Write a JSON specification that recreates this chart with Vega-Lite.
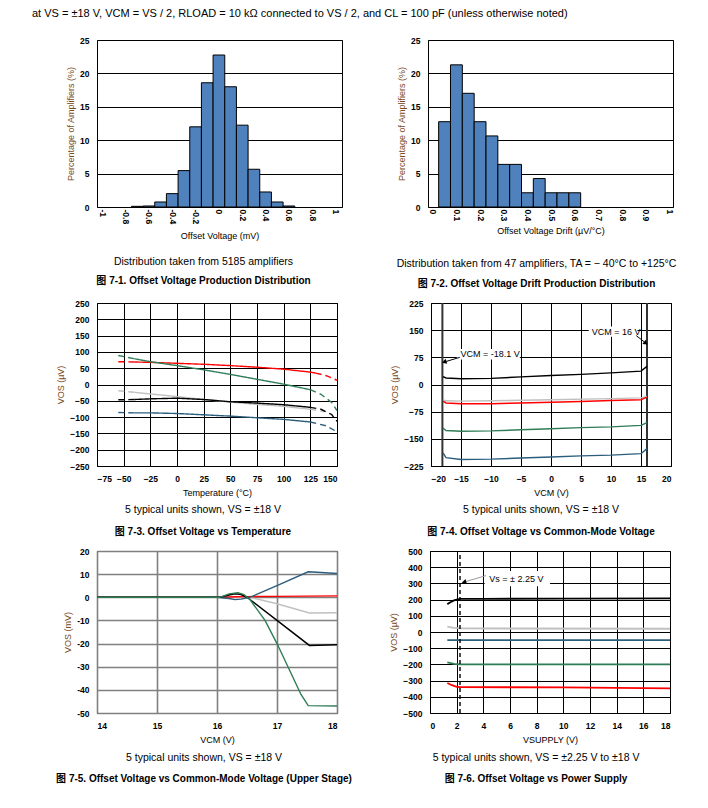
{
  "$schema": "https://vega.github.io/schema/vega-lite/v6.json",
  "background": "white",
  "padding": {"left": 32, "top": 7, "right": 5, "bottom": 5},
  "title": {"text": "at VS = ±18 V, VCM = VS / 2, RLOAD = 10 kΩ  connected to VS / 2, and CL = 100 pF (unless otherwise noted)", "orient": "top", "anchor": "start", "frame": "group", "dx": -65, "offset": 17, "fontSize": 11, "fontWeight": "normal", "color": "#000"},
  "config": {
    "font": "Liberation Sans, Noto Sans CJK SC",
    "view": {"stroke": "#000", "strokeWidth": 1},
    "axis": {"labelFontSize": 8.5, "labelFontWeight": "bold", "labelColor": "#000", "titleFontSize": 9, "titleFontWeight": "normal", "titleColor": "#000", "grid": true, "gridColor": "#000", "gridOpacity": 1, "gridWidth": 1, "domain": false, "ticks": false},
    "axisY": {"titleColor": "#7a4a1c", "labelPadding": 8, "titlePadding": 4},
    "axisX": {"labelPadding": 8, "titlePadding": 6},
    "title": {"fontSize": 10.5, "fontWeight": "normal", "color": "#000", "subtitleFontSize": 10, "subtitleFontWeight": "bold", "subtitleColor": "#000", "subtitlePadding": 9, "orient": "bottom", "anchor": "middle", "frame": "group"},
    "line": {"strokeWidth": 1.4}
  },
  "datasets": {
    "p1": [
      {"lo": -0.75, "hi": -0.65, "pct": 0.1},
      {"lo": -0.65, "hi": -0.55, "pct": 0.15},
      {"lo": -0.55, "hi": -0.45, "pct": 0.75},
      {"lo": -0.45, "hi": -0.35, "pct": 2.0},
      {"lo": -0.35, "hi": -0.25, "pct": 5.45},
      {"lo": -0.25, "hi": -0.15, "pct": 12.0},
      {"lo": -0.15, "hi": -0.05, "pct": 18.6},
      {"lo": -0.05, "hi": 0.05, "pct": 22.75},
      {"lo": 0.05, "hi": 0.15, "pct": 18.0},
      {"lo": 0.15, "hi": 0.25, "pct": 12.25},
      {"lo": 0.25, "hi": 0.35, "pct": 5.65},
      {"lo": 0.35, "hi": 0.45, "pct": 2.25},
      {"lo": 0.45, "hi": 0.55, "pct": 0.75},
      {"lo": 0.55, "hi": 0.65, "pct": 0.15}
    ],
    "p2": [
      {"lo": 0.025, "hi": 0.075, "pct": 12.77},
      {"lo": 0.075, "hi": 0.125, "pct": 21.28},
      {"lo": 0.125, "hi": 0.175, "pct": 17.02},
      {"lo": 0.175, "hi": 0.225, "pct": 12.77},
      {"lo": 0.225, "hi": 0.275, "pct": 10.64},
      {"lo": 0.275, "hi": 0.325, "pct": 6.38},
      {"lo": 0.325, "hi": 0.375, "pct": 6.38},
      {"lo": 0.375, "hi": 0.425, "pct": 2.13},
      {"lo": 0.425, "hi": 0.475, "pct": 4.26},
      {"lo": 0.475, "hi": 0.525, "pct": 2.13},
      {"lo": 0.525, "hi": 0.575, "pct": 2.13},
      {"lo": 0.575, "hi": 0.625, "pct": 2.13}
    ],
    "p3": [
      {"unit": "U3", "seg": "dashL", "t": -55, "vos": -19}, {"unit": "U3", "seg": "dashL", "t": -40, "vos": -24},
      {"unit": "U3", "seg": "solid", "t": -40, "vos": -24}, {"unit": "U3", "seg": "solid", "t": -25, "vos": -29}, {"unit": "U3", "seg": "solid", "t": 0, "vos": -37}, {"unit": "U3", "seg": "solid", "t": 25, "vos": -46}, {"unit": "U3", "seg": "solid", "t": 50, "vos": -54}, {"unit": "U3", "seg": "solid", "t": 75, "vos": -61}, {"unit": "U3", "seg": "solid", "t": 100, "vos": -67}, {"unit": "U3", "seg": "solid", "t": 125, "vos": -76},
      {"unit": "U3", "seg": "dashR", "t": 125, "vos": -76}, {"unit": "U3", "seg": "dashR", "t": 138, "vos": -83},
      {"unit": "U1", "seg": "dashL", "t": -55, "vos": 70}, {"unit": "U1", "seg": "dashL", "t": -40, "vos": 69},
      {"unit": "U1", "seg": "solid", "t": -40, "vos": 69}, {"unit": "U1", "seg": "solid", "t": -25, "vos": 68}, {"unit": "U1", "seg": "solid", "t": 0, "vos": 65}, {"unit": "U1", "seg": "solid", "t": 25, "vos": 62}, {"unit": "U1", "seg": "solid", "t": 50, "vos": 58}, {"unit": "U1", "seg": "solid", "t": 75, "vos": 53}, {"unit": "U1", "seg": "solid", "t": 100, "vos": 47}, {"unit": "U1", "seg": "solid", "t": 125, "vos": 38}, {"unit": "U1", "seg": "solid", "t": 130, "vos": 35},
      {"unit": "U1", "seg": "dashR", "t": 130, "vos": 35}, {"unit": "U1", "seg": "dashR", "t": 140, "vos": 27}, {"unit": "U1", "seg": "dashR", "t": 150, "vos": 13},
      {"unit": "U2", "seg": "dashL", "t": -55, "vos": 89}, {"unit": "U2", "seg": "dashL", "t": -40, "vos": 79},
      {"unit": "U2", "seg": "solid", "t": -40, "vos": 79}, {"unit": "U2", "seg": "solid", "t": -25, "vos": 70}, {"unit": "U2", "seg": "solid", "t": 0, "vos": 58}, {"unit": "U2", "seg": "solid", "t": 25, "vos": 45}, {"unit": "U2", "seg": "solid", "t": 50, "vos": 31}, {"unit": "U2", "seg": "solid", "t": 75, "vos": 16}, {"unit": "U2", "seg": "solid", "t": 100, "vos": 1}, {"unit": "U2", "seg": "solid", "t": 125, "vos": -16},
      {"unit": "U2", "seg": "dashR", "t": 125, "vos": -16}, {"unit": "U2", "seg": "dashR", "t": 135, "vos": -30}, {"unit": "U2", "seg": "dashR", "t": 145, "vos": -55}, {"unit": "U2", "seg": "dashR", "t": 150, "vos": -80},
      {"unit": "U4", "seg": "dashL", "t": -55, "vos": -47}, {"unit": "U4", "seg": "dashL", "t": -40, "vos": -46},
      {"unit": "U4", "seg": "solid", "t": -40, "vos": -46}, {"unit": "U4", "seg": "solid", "t": -25, "vos": -44}, {"unit": "U4", "seg": "solid", "t": 0, "vos": -42}, {"unit": "U4", "seg": "solid", "t": 25, "vos": -46}, {"unit": "U4", "seg": "solid", "t": 50, "vos": -53}, {"unit": "U4", "seg": "solid", "t": 75, "vos": -57}, {"unit": "U4", "seg": "solid", "t": 100, "vos": -62}, {"unit": "U4", "seg": "solid", "t": 125, "vos": -70},
      {"unit": "U4", "seg": "dashR", "t": 125, "vos": -70}, {"unit": "U4", "seg": "dashR", "t": 135, "vos": -76}, {"unit": "U4", "seg": "dashR", "t": 145, "vos": -92}, {"unit": "U4", "seg": "dashR", "t": 150, "vos": -113},
      {"unit": "U5", "seg": "dashL", "t": -55, "vos": -86}, {"unit": "U5", "seg": "dashL", "t": -40, "vos": -87},
      {"unit": "U5", "seg": "solid", "t": -40, "vos": -87}, {"unit": "U5", "seg": "solid", "t": -25, "vos": -87}, {"unit": "U5", "seg": "solid", "t": 0, "vos": -89}, {"unit": "U5", "seg": "solid", "t": 25, "vos": -93}, {"unit": "U5", "seg": "solid", "t": 50, "vos": -97}, {"unit": "U5", "seg": "solid", "t": 75, "vos": -102}, {"unit": "U5", "seg": "solid", "t": 100, "vos": -107}, {"unit": "U5", "seg": "solid", "t": 125, "vos": -115},
      {"unit": "U5", "seg": "dashR", "t": 125, "vos": -115}, {"unit": "U5", "seg": "dashR", "t": 140, "vos": -127}, {"unit": "U5", "seg": "dashR", "t": 150, "vos": -145}
    ],
    "p4": [
      {"unit": "U4", "vcm": -18, "vos": 22}, {"unit": "U4", "vcm": -17.5, "vos": 18}, {"unit": "U4", "vcm": -15, "vos": 16}, {"unit": "U4", "vcm": -10, "vos": 17}, {"unit": "U4", "vcm": -5, "vos": 21}, {"unit": "U4", "vcm": 0, "vos": 25}, {"unit": "U4", "vcm": 5, "vos": 28}, {"unit": "U4", "vcm": 10, "vos": 32}, {"unit": "U4", "vcm": 15, "vos": 37}, {"unit": "U4", "vcm": 16, "vos": 50},
      {"unit": "U3", "vcm": -18, "vos": -42}, {"unit": "U3", "vcm": -17.5, "vos": -45}, {"unit": "U3", "vcm": -15, "vos": -46}, {"unit": "U3", "vcm": -10, "vos": -45}, {"unit": "U3", "vcm": 0, "vos": -42}, {"unit": "U3", "vcm": 10, "vos": -39}, {"unit": "U3", "vcm": 15, "vos": -37}, {"unit": "U3", "vcm": 16, "vos": -33},
      {"unit": "U1", "vcm": -18, "vos": -46}, {"unit": "U1", "vcm": -17.5, "vos": -51}, {"unit": "U1", "vcm": -15, "vos": -53}, {"unit": "U1", "vcm": -10, "vos": -53}, {"unit": "U1", "vcm": -5, "vos": -51}, {"unit": "U1", "vcm": 0, "vos": -49}, {"unit": "U1", "vcm": 5, "vos": -47}, {"unit": "U1", "vcm": 10, "vos": -44}, {"unit": "U1", "vcm": 15, "vos": -42}, {"unit": "U1", "vcm": 16, "vos": -35},
      {"unit": "U2", "vcm": -18, "vos": -120}, {"unit": "U2", "vcm": -17.5, "vos": -127}, {"unit": "U2", "vcm": -15, "vos": -129}, {"unit": "U2", "vcm": -10, "vos": -128}, {"unit": "U2", "vcm": -5, "vos": -125}, {"unit": "U2", "vcm": 0, "vos": -122}, {"unit": "U2", "vcm": 5, "vos": -119}, {"unit": "U2", "vcm": 10, "vos": -117}, {"unit": "U2", "vcm": 15, "vos": -113}, {"unit": "U2", "vcm": 16, "vos": -105},
      {"unit": "U5", "vcm": -18, "vos": -189}, {"unit": "U5", "vcm": -17.5, "vos": -202}, {"unit": "U5", "vcm": -15, "vos": -207}, {"unit": "U5", "vcm": -10, "vos": -206}, {"unit": "U5", "vcm": -5, "vos": -203}, {"unit": "U5", "vcm": 0, "vos": -200}, {"unit": "U5", "vcm": 5, "vos": -197}, {"unit": "U5", "vcm": 10, "vos": -195}, {"unit": "U5", "vcm": 15, "vos": -191}, {"unit": "U5", "vcm": 16, "vos": -177}
    ],
    "p4v": [{"vcm": -18.1, "vos": -225, "vos2": 225}, {"vcm": 16, "vos": -225, "vos2": 225}],
    "p4box": [{"vcm": -15.7, "vcm2": -5.2, "vos": 98, "vos2": 69}, {"vcm": 6.3, "vcm2": 14.4, "vos": 160, "vos2": 132}],
    "p4txt": [{"vcm": -15.1, "vos": 84, "label": "VCM = -18.1 V"}, {"vcm": 6.8, "vos": 146, "label": "VCM = 16 V"}],
    "p4arr": [{"vcm": -15.2, "vos": 75, "vcm2": -17.6, "vos2": 63}, {"vcm": 14.2, "vos": 135, "vcm2": 15.6, "vos2": 117}],
    "p4head1": [{"vcm": -17.8, "vos": 62}],
    "p4head2": [{"vcm": 15.8, "vos": 114}],
    "p5": [
      {"unit": "U3", "vcm": 14, "vos": 0}, {"unit": "U3", "vcm": 16.4, "vos": 0}, {"unit": "U3", "vcm": 16.55, "vos": 0}, {"unit": "U3", "vcm": 17, "vos": -2.8}, {"unit": "U3", "vcm": 17.54, "vos": -6.8}, {"unit": "U3", "vcm": 18, "vos": -6.7},
      {"unit": "U1", "vcm": 14, "vos": 0}, {"unit": "U1", "vcm": 16.1, "vos": 0}, {"unit": "U1", "vcm": 16.3, "vos": 0.2}, {"unit": "U1", "vcm": 16.5, "vos": 0.3}, {"unit": "U1", "vcm": 17, "vos": 0.4}, {"unit": "U1", "vcm": 17.5, "vos": 0.5}, {"unit": "U1", "vcm": 18, "vos": 0.6},
      {"unit": "U5", "vcm": 14, "vos": 0}, {"unit": "U5", "vcm": 16, "vos": 0}, {"unit": "U5", "vcm": 16.2, "vos": -0.5}, {"unit": "U5", "vcm": 16.3, "vos": -1.0}, {"unit": "U5", "vcm": 16.4, "vos": -0.8}, {"unit": "U5", "vcm": 16.55, "vos": 0}, {"unit": "U5", "vcm": 17, "vos": 5}, {"unit": "U5", "vcm": 17.52, "vos": 11}, {"unit": "U5", "vcm": 17.6, "vos": 10.9}, {"unit": "U5", "vcm": 18, "vos": 10.3},
      {"unit": "U4", "vcm": 14, "vos": 0}, {"unit": "U4", "vcm": 16.05, "vos": 0}, {"unit": "U4", "vcm": 16.2, "vos": 1.0}, {"unit": "U4", "vcm": 16.3, "vos": 1.5}, {"unit": "U4", "vcm": 16.4, "vos": 1.2}, {"unit": "U4", "vcm": 16.5, "vos": 0}, {"unit": "U4", "vcm": 17, "vos": -10}, {"unit": "U4", "vcm": 17.54, "vos": -20.8}, {"unit": "U4", "vcm": 18, "vos": -20.5},
      {"unit": "U2", "vcm": 14, "vos": 0}, {"unit": "U2", "vcm": 16.05, "vos": 0}, {"unit": "U2", "vcm": 16.2, "vos": 1.5}, {"unit": "U2", "vcm": 16.35, "vos": 2.0}, {"unit": "U2", "vcm": 16.45, "vos": 1.2}, {"unit": "U2", "vcm": 16.55, "vos": -1}, {"unit": "U2", "vcm": 16.8, "vos": -10}, {"unit": "U2", "vcm": 17, "vos": -20}, {"unit": "U2", "vcm": 17.2, "vos": -31}, {"unit": "U2", "vcm": 17.4, "vos": -42}, {"unit": "U2", "vcm": 17.52, "vos": -46.8}, {"unit": "U2", "vcm": 18, "vos": -47}
    ],
    "p6": [
      {"unit": "U4", "vs": 1.3, "vos": 172}, {"unit": "U4", "vs": 1.5, "vos": 182}, {"unit": "U4", "vs": 1.8, "vos": 195}, {"unit": "U4", "vs": 2.0, "vos": 200}, {"unit": "U4", "vs": 2.25, "vos": 205}, {"unit": "U4", "vs": 4, "vos": 205}, {"unit": "U4", "vs": 10, "vos": 206}, {"unit": "U4", "vs": 18, "vos": 207},
      {"unit": "U3", "vs": 1.3, "vos": 33}, {"unit": "U3", "vs": 1.8, "vos": 25}, {"unit": "U3", "vs": 2.25, "vos": 22}, {"unit": "U3", "vs": 18, "vos": 20},
      {"unit": "U5", "vs": 1.3, "vos": -50}, {"unit": "U5", "vs": 2.25, "vos": -50}, {"unit": "U5", "vs": 18, "vos": -50},
      {"unit": "U2", "vs": 1.3, "vos": -188}, {"unit": "U2", "vs": 1.8, "vos": -197}, {"unit": "U2", "vs": 2.25, "vos": -200}, {"unit": "U2", "vs": 18, "vos": -200},
      {"unit": "U1", "vs": 1.3, "vos": -315}, {"unit": "U1", "vs": 1.6, "vos": -327}, {"unit": "U1", "vs": 2.0, "vos": -338}, {"unit": "U1", "vs": 2.25, "vos": -340}, {"unit": "U1", "vs": 10, "vos": -342}, {"unit": "U1", "vs": 18, "vos": -348}
    ],
    "p6v": [{"vs": 2.25, "vos": -500, "vos2": 500}],
    "p6box": [{"vs": 4.1, "vs2": 9.0, "vos": 377, "vos2": 282}],
    "p6txt": [{"vs": 4.45, "vos": 326, "label": "Vs = ± 2.25 V"}],
    "p6arr": [{"vs": 4.2, "vos": 348, "vs2": 2.7, "vos2": 312}],
    "p6head": [{"vs": 2.55, "vos": 308}]
  },
  "spacing": 8,
  "vconcat": [
    {
      "hconcat": [
        {
          "width": 245, "height": 167,
          "title": {"text": "Distribution taken from 5185 amplifiers", "subtitle": "图 7-1. Offset Voltage Production Distribution", "dx": -16, "offset": 16},
          "data": {"name": "p1"},
          "mark": {"type": "rect", "fill": "#4f81bd", "stroke": "#000", "strokeWidth": 1},
          "encoding": {
            "x": {"field": "lo", "type": "quantitative", "scale": {"domain": [-1.045, 1.055], "nice": false, "zero": false}, "axis": {"values": [-1, -0.8, -0.6, -0.4, -0.2, 0, 0.2, 0.4, 0.6, 0.8, 1], "format": "~g", "labelExpr": "replace(datum.label, '−', '-')", "labelAngle": 90, "labelAlign": "left", "labelBaseline": "middle", "labelPadding": 2, "grid": false, "title": "Offset Voltage (mV)", "titlePadding": 8}},
            "x2": {"field": "hi"},
            "y": {"field": "pct", "type": "quantitative", "scale": {"domain": [0, 25], "nice": false}, "axis": {"values": [0, 5, 10, 15, 20, 25], "title": "Percentage of Amplifiers (%)"}},
            "y2": {"datum": 0}
          }
        },
        {
          "width": 245, "height": 167,
          "title": {"text": "Distribution taken from 47 amplifiers, TA =  − 40°C to +125°C", "subtitle": "图 7-2. Offset Voltage Drift Production Distribution", "dx": -14, "offset": 23, "subtitlePadding": 10},
          "data": {"name": "p2"},
          "mark": {"type": "rect", "fill": "#4f81bd", "stroke": "#000", "strokeWidth": 1},
          "encoding": {
            "x": {"field": "lo", "type": "quantitative", "scale": {"domain": [-0.02, 1.015], "nice": false, "zero": false}, "axis": {"values": [0, 0.1, 0.2, 0.3, 0.4, 0.5, 0.6, 0.7, 0.8, 0.9, 1], "format": "~g", "labelAngle": 90, "labelAlign": "left", "labelBaseline": "middle", "labelPadding": 2, "grid": false, "title": "Offset Voltage Drift (µV/°C)", "titlePadding": 6}},
            "x2": {"field": "hi"},
            "y": {"field": "pct", "type": "quantitative", "scale": {"domain": [0, 25], "nice": false}, "axis": {"values": [0, 5, 10, 15, 20, 25], "title": "Percentage of Amplifiers (%)"}},
            "y2": {"datum": 0}
          }
        }
      ],
      "spacing": 86,
      "bounds": "flush"
    },
    {
      "spacing": 8,
      "vconcat": [
        {
          "hconcat": [
            {
              "width": 240, "height": 163,
              "title": {"text": "5 typical units shown, VS = ±18 V", "subtitle": "图 7-3. Offset Voltage vs Temperature", "dx": -14, "offset": 7, "subtitlePadding": 12},
              "data": {"name": "p3"},
              "mark": {"type": "line", "strokeWidth": 1.4},
              "encoding": {
                "x": {"field": "t", "type": "quantitative", "scale": {"domain": [-75, 150], "nice": false, "zero": false}, "axis": {"values": [-75, -50, -25, 0, 25, 50, 75, 100, 125, 150], "title": "Temperature (°C)"}},
                "y": {"field": "vos", "type": "quantitative", "scale": {"domain": [-250, 250], "nice": false}, "axis": {"values": [-250, -200, -150, -100, -50, 0, 50, 100, 150, 200, 250], "title": "VOS (µV)"}},
                "color": {"field": "unit", "type": "nominal", "scale": {"domain": ["U1", "U2", "U3", "U4", "U5"], "range": ["#ff0000", "#2f7d56", "#c0c0c0", "#000000", "#2b5d7d"]}, "legend": null},
                "strokeDash": {"field": "seg", "type": "nominal", "scale": {"domain": ["solid", "dashL", "dashR"], "range": [[1, 0], [6, 4], [6, 4]]}, "legend": null}
              }
            },
            {
              "width": 240, "height": 163,
              "title": {"text": "5 typical units shown, VS = ±18 V", "subtitle": "图 7-4. Offset Voltage vs Common-Mode Voltage", "dx": -10, "offset": 7, "subtitlePadding": 12},
              "encoding": {
                "x": {"field": "vcm", "type": "quantitative", "scale": {"domain": [-20, 20], "nice": false, "zero": false}, "axis": {"values": [-20, -15, -10, -5, 0, 5, 10, 15, 20], "title": "VCM (V)"}},
                "y": {"field": "vos", "type": "quantitative", "scale": {"domain": [-225, 225], "nice": false}, "axis": {"values": [-225, -150, -75, 0, 75, 150, 225], "title": "VOS (µV)"}}
              },
              "layer": [
                {"data": {"name": "p4box"}, "mark": {"type": "rect", "fill": "#ffffff", "stroke": null}, "encoding": {"x2": {"field": "vcm2"}, "y2": {"field": "vos2"}}},
                {"data": {"name": "p4v"}, "mark": {"type": "rule", "strokeWidth": 2, "color": "#333333"}, "encoding": {"y2": {"field": "vos2"}}},
                {"data": {"name": "p4"}, "mark": {"type": "line", "strokeWidth": 1.4}, "encoding": {"color": {"field": "unit", "type": "nominal", "scale": {"domain": ["U1", "U2", "U3", "U4", "U5"], "range": ["#ff0000", "#2f7d56", "#c0c0c0", "#000000", "#2b5d7d"]}, "legend": null}}},
                {"data": {"name": "p4txt"}, "mark": {"type": "text", "align": "left", "baseline": "middle", "fontSize": 9, "color": "#000"}, "encoding": {"text": {"field": "label"}}},
                {"data": {"name": "p4arr"}, "mark": {"type": "rule", "color": "#000", "strokeWidth": 1}, "encoding": {"x2": {"field": "vcm2"}, "y2": {"field": "vos2"}}},
                {"data": {"name": "p4head1"}, "mark": {"type": "point", "shape": "triangle-up", "angle": 252, "filled": true, "color": "#000", "size": 28, "opacity": 1}},
                {"data": {"name": "p4head2"}, "mark": {"type": "point", "shape": "triangle-up", "angle": 128, "filled": true, "color": "#000", "size": 28, "opacity": 1}}
              ]
            }
          ],
          "spacing": 94,
          "bounds": "flush"
        },
        {
          "hconcat": [
            {
              "width": 240, "height": 162,
              "title": {"text": "5 typical units shown, VS = ±18 V", "subtitle": "图 7-5. Offset Voltage vs Common-Mode Voltage (Upper Stage)", "dx": -13, "offset": 8, "subtitlePadding": 11},
              "data": {"name": "p5"},
              "mark": {"type": "line", "strokeWidth": 1.4},
              "encoding": {
                "x": {"field": "vcm", "type": "quantitative", "scale": {"domain": [14, 18], "nice": false, "zero": false}, "axis": {"values": [14, 15, 16, 17, 18], "title": "VCM (V)", "gridColor": "#808080", "gridWidth": 1.6}},
                "y": {"field": "vos", "type": "quantitative", "scale": {"domain": [-50, 20], "nice": false}, "axis": {"values": [-50, -40, -30, -20, -10, 0, 10, 20], "labelExpr": "replace(datum.label, '−', '-')", "title": "VOS (mV)", "gridColor": "#808080", "gridWidth": 1.6}},
                "color": {"field": "unit", "type": "nominal", "scale": {"domain": ["U1", "U2", "U3", "U4", "U5"], "range": ["#ff0000", "#2f7d56", "#c0c0c0", "#000000", "#2b5d7d"]}, "legend": null}
              }
            },
            {
              "width": 240, "height": 162,
              "title": {"text": "5 typical units shown, VS = ±2.25 V to ±18 V", "subtitle": "图 7-6. Offset Voltage vs Power Supply", "dx": -14, "offset": 8, "subtitlePadding": 11},
              "encoding": {
                "x": {"field": "vs", "type": "quantitative", "scale": {"domain": [0, 18], "nice": false, "zero": false}, "axis": {"values": [0, 2, 4, 6, 8, 10, 12, 14, 16, 18], "title": "VSUPPLY (V)"}},
                "y": {"field": "vos", "type": "quantitative", "scale": {"domain": [-500, 500], "nice": false}, "axis": {"values": [-500, -400, -300, -200, -100, 0, 100, 200, 300, 400, 500], "title": "VOS (µV)"}}
              },
              "layer": [
                {"data": {"name": "p6box"}, "mark": {"type": "rect", "fill": "#ffffff", "stroke": null}, "encoding": {"x2": {"field": "vs2"}, "y2": {"field": "vos2"}}},
                {"data": {"name": "p6"}, "mark": {"type": "line", "strokeWidth": 1.8}, "encoding": {"color": {"field": "unit", "type": "nominal", "scale": {"domain": ["U1", "U2", "U3", "U4", "U5"], "range": ["#ff0000", "#2f7d56", "#c0c0c0", "#000000", "#2b5d7d"]}, "legend": null}}},
                {"data": {"name": "p6v"}, "mark": {"type": "rule", "strokeWidth": 1.4, "color": "#000", "strokeDash": [4, 3]}, "encoding": {"y2": {"field": "vos2"}}},
                {"data": {"name": "p6txt"}, "mark": {"type": "text", "align": "left", "baseline": "middle", "fontSize": 9, "color": "#000"}, "encoding": {"text": {"field": "label"}}},
                {"data": {"name": "p6arr"}, "mark": {"type": "rule", "color": "#999999", "strokeWidth": 1}, "encoding": {"x2": {"field": "vs2"}, "y2": {"field": "vos2"}}},
                {"data": {"name": "p6head"}, "mark": {"type": "point", "shape": "triangle-up", "angle": 254, "filled": true, "color": "#000", "size": 28, "opacity": 1}}
              ]
            }
          ],
          "spacing": 93,
          "bounds": "flush"
        }
      ]
    }
  ]
}
